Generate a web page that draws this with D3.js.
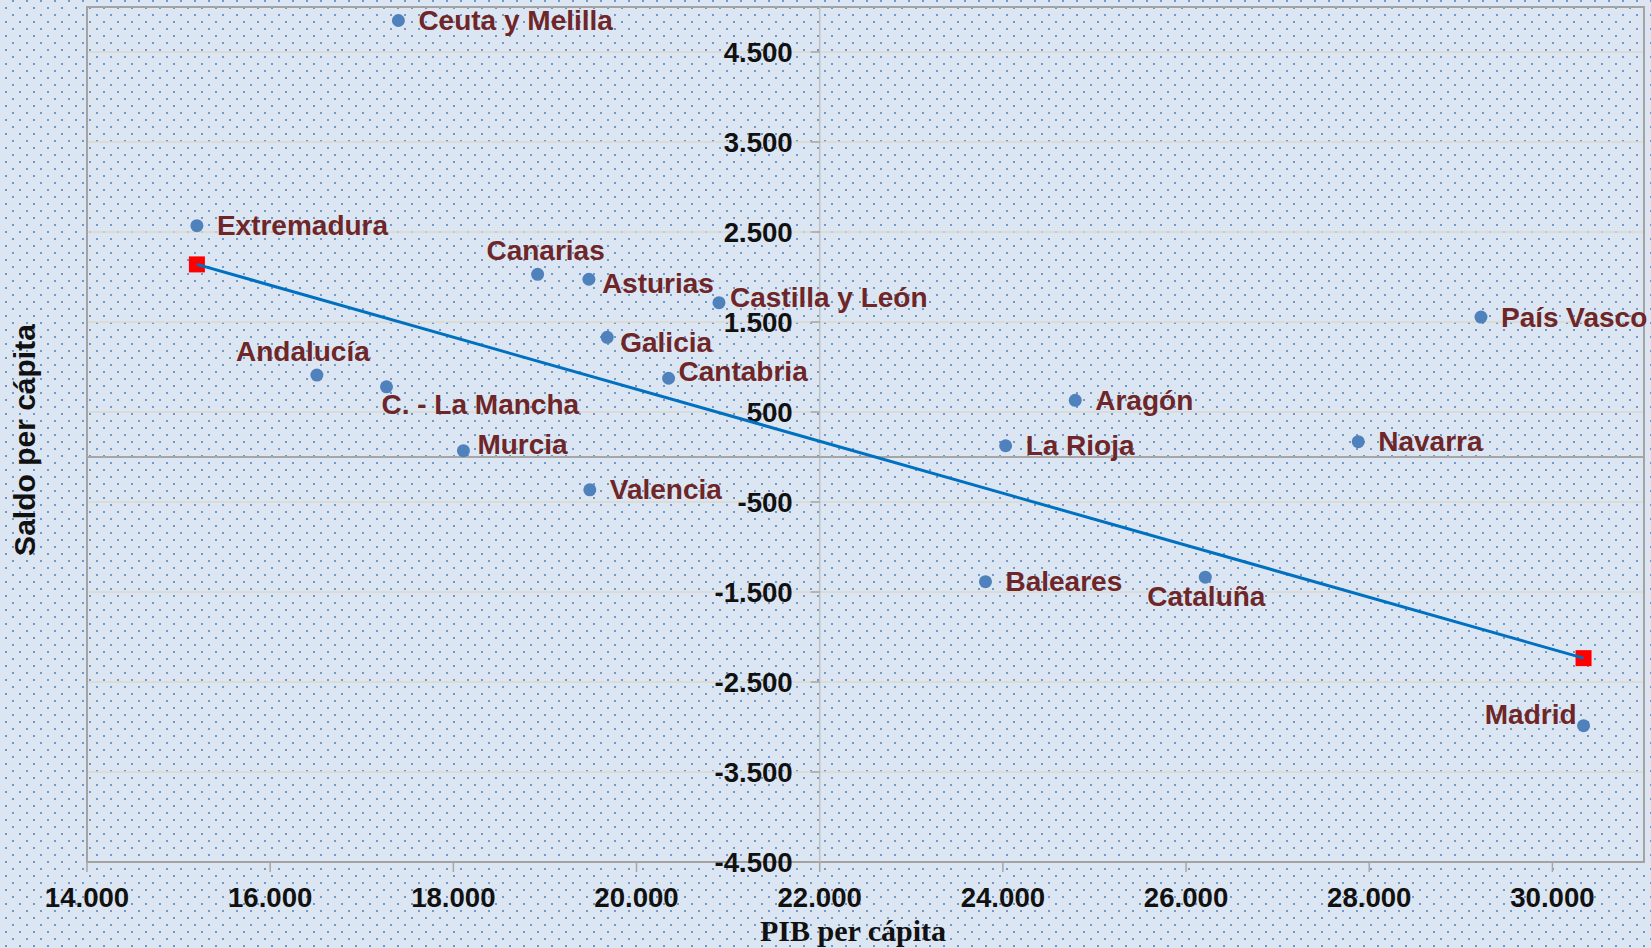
<!DOCTYPE html>
<html lang="es">
<head>
<meta charset="UTF-8">
<title>Saldo per cápita vs PIB per cápita</title>
<script src="https://d3js.org/d3.v7.min.js"></script>
<style>
  body { margin: 0; background: #dce6f2; }
  svg { display: block; }
  .tick-label { font-family: "Liberation Sans", Arial, sans-serif; font-weight: bold; font-size: 27.6px; fill: #111; }
  .region { font-family: "Liberation Sans", Arial, sans-serif; font-weight: bold; font-size: 28px; fill: #6e2628; }
</style>
</head>
<body>
<svg id="chart" width="1651" height="948"></svg>
<script>
// regions: PIB per cápita (x) and saldo per cápita (y)
const regions = ["Ceuta y Melilla", "Extremadura", "Canarias", "Asturias", "Castilla y León",
  "País Vasco", "Galicia", "Andalucía", "Cantabria", "C. - La Mancha", "Aragón", "Murcia",
  "La Rioja", "Navarra", "Valencia", "Baleares", "Cataluña", "Madrid"];
const pib   = [17400, 15200, 18920, 19480, 20900, 29220, 19680, 16510, 20350, 17270, 24790, 18110,
  24030, 27880, 19490, 23810, 26210, 30340];
const saldo = [4850, 2570, 2030, 1975, 1715, 1555, 1330, 910, 875, 780, 630, 70,
  125, 170, -365, -1385, -1335, -2985];

// trend line end points
const trendX = [15200, 30340];
const trendY = [2140, -2235];

const xTicks = [14000, 16000, 18000, 20000, 22000, 24000, 26000, 28000, 30000];
const yTicks = [-4500, -3500, -2500, -1500, -500, 500, 1500, 2500, 3500, 4500];

// where each label sits around its point (anchor, dx, dy)
const labelPos = {
  "Canarias": ["middle", 8, -24],
  "Andalucía": ["middle", -14, -24],
  "C. - La Mancha": ["start", -5, 18],
  "Cataluña": ["middle", 1, 19],
  "Madrid": ["end", -7, -11],
  "Asturias": ["start", 13, 4],
  "Castilla y León": ["start", 11, -5],
  "Galicia": ["start", 13, 5],
  "Cantabria": ["start", 10, -7],
  "Murcia": ["start", 14, -6]
};

const es = d3.formatLocale({ decimal: ",", thousands: ".", grouping: [3], currency: ["", " €"], minus: "-" });
const fmt = es.format(",d");

const svg = d3.select("#chart");
const pLeft = 87, pRight = 1644, pTop = 7, pBottom = 862;

const x = d3.scaleLinear().domain([14000, 31000]).range([pLeft, pRight]);
const y = d3.scaleLinear().domain([-4500, 5000]).range([pBottom, pTop]);

// dotted background pattern
const pat = svg.append("defs").append("pattern")
  .attr("id", "dots").attr("patternUnits", "userSpaceOnUse")
  .attr("width", 14).attr("height", 14);
pat.append("rect").attr("width", 14).attr("height", 14).attr("fill", "#dce6f2");
pat.append("rect").attr("x", 5).attr("y", 7).attr("width", 2).attr("height", 2).attr("fill", "#6f98cd");
pat.append("rect").attr("x", 12).attr("y", 0).attr("width", 2).attr("height", 2).attr("fill", "#6f98cd");

svg.append("rect").attr("width", 1651).attr("height", 948).attr("fill", "url(#dots)");

// horizontal gridlines
svg.append("g").selectAll("line").data(yTicks).enter().append("line")
  .attr("x1", pLeft).attr("x2", pRight)
  .attr("y1", d => y(d)).attr("y2", d => y(d))
  .attr("stroke", "#dcd8ce").attr("stroke-width", 1.5);

// plot border
svg.append("rect")
  .attr("x", pLeft).attr("y", pTop).attr("width", pRight - pLeft).attr("height", pBottom - pTop)
  .attr("fill", "none").attr("stroke", "#a3a3a3").attr("stroke-width", 2);

// axes crossing at (22000, 0)
svg.append("line")
  .attr("x1", x(22000)).attr("x2", x(22000)).attr("y1", pTop).attr("y2", pBottom)
  .attr("stroke", "#c0c0c0").attr("stroke-width", 1.5);
svg.append("line")
  .attr("x1", pLeft).attr("x2", pRight).attr("y1", y(0)).attr("y2", y(0))
  .attr("stroke", "#a6a6a6").attr("stroke-width", 2);

// y ticks and labels
const yg = svg.append("g");
yg.selectAll("line").data(yTicks).enter().append("line")
  .attr("x1", x(22000) - 9).attr("x2", x(22000))
  .attr("y1", d => y(d)).attr("y2", d => y(d))
  .attr("stroke", "#a6a6a6").attr("stroke-width", 1.5);
yg.selectAll("text").data(yTicks).enter().append("text")
  .attr("class", "tick-label")
  .attr("x", x(22000) - 27).attr("y", d => y(d))
  .attr("text-anchor", "end").attr("dominant-baseline", "central")
  .text(d => fmt(d));

// x ticks and labels
const xg = svg.append("g");
xg.selectAll("line").data(xTicks).enter().append("line")
  .attr("x1", d => x(d)).attr("x2", d => x(d))
  .attr("y1", pBottom).attr("y2", pBottom + 10)
  .attr("stroke", "#a6a6a6").attr("stroke-width", 1.5);
xg.selectAll("text").data(xTicks).enter().append("text")
  .attr("class", "tick-label")
  .attr("x", d => x(d)).attr("y", 897)
  .attr("text-anchor", "middle").attr("dominant-baseline", "central")
  .text(d => fmt(d));

// axis titles
svg.append("text")
  .attr("x", 853).attr("y", 930)
  .attr("text-anchor", "middle").attr("dominant-baseline", "central")
  .style("font-family", "'Liberation Serif', 'Times New Roman', serif")
  .style("font-weight", "bold").style("font-size", "30px").style("fill", "#111")
  .text("PIB per cápita");
svg.append("text")
  .attr("transform", "translate(24,440) rotate(-90)")
  .attr("text-anchor", "middle").attr("dominant-baseline", "central")
  .style("font-family", "'Liberation Sans', Arial, sans-serif")
  .style("font-weight", "bold").style("font-size", "30px").style("fill", "#111")
  .text("Saldo per cápita");

// trend line with red end markers
const trend = trendX.map((v, i) => ({ x: v, y: trendY[i] }));
svg.append("g").selectAll("rect").data(trend).enter().append("rect")
  .attr("x", d => x(d.x) - 8).attr("y", d => y(d.y) - 8)
  .attr("width", 16).attr("height", 16).attr("fill", "#ff0000");
svg.append("path")
  .datum(trend)
  .attr("d", d3.line().x(d => x(d.x)).y(d => y(d.y)))
  .attr("fill", "none").attr("stroke", "#0070c0").attr("stroke-width", 3);

// points
const pts = regions.map((n, i) => ({ name: n, x: pib[i], y: saldo[i] }));
svg.append("g").selectAll("circle").data(pts).enter().append("circle")
  .attr("cx", d => x(d.x)).attr("cy", d => y(d.y)).attr("r", 6.5)
  .attr("fill", "#4f81bd");

// region labels
svg.append("g").selectAll("text").data(pts).enter().append("text")
  .attr("class", "region")
  .attr("x", d => x(d.x) + (labelPos[d.name] ? labelPos[d.name][1] : 20))
  .attr("y", d => y(d.y) + (labelPos[d.name] ? labelPos[d.name][2] : 0))
  .attr("text-anchor", d => labelPos[d.name] ? labelPos[d.name][0] : "start")
  .attr("dominant-baseline", "central")
  .text(d => d.name);
</script>
</body>
</html>
